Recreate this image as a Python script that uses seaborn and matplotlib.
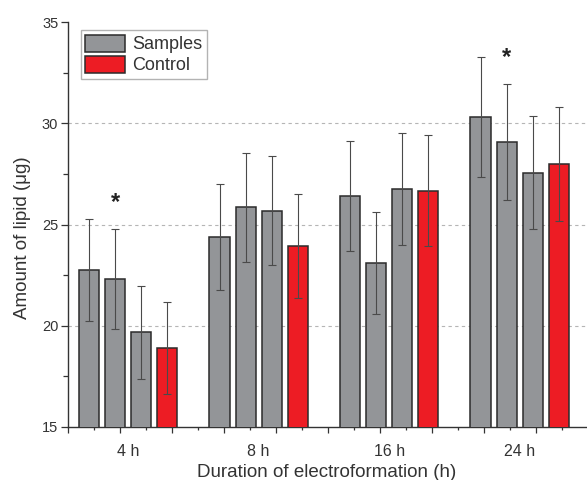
import matplotlib
matplotlib.use("Agg")
import matplotlib.pyplot as plt
import seaborn as sns
import pandas as pd
import numpy as np
from matplotlib.patches import Patch
from matplotlib.ticker import FixedLocator

# ---- data ----
durations = ["4 h", "8 h", "16 h", "24 h"]
series = ["Sample 1", "Sample 2", "Sample 3", "Control"]
sample1 = [22.75, 24.37, 26.39, 30.31]
sample2 = [22.31, 25.86, 23.08, 29.07]
sample3 = [19.68, 25.68, 26.75, 27.56]
control = [18.92, 23.94, 26.67, 27.97]
err1 = [2.50, 2.61, 2.72, 2.96]
err2 = [2.46, 2.69, 2.52, 2.88]
err3 = [2.30, 2.70, 2.76, 2.79]
errc = [2.27, 2.58, 2.73, 2.82]
star_marks = [("4 h", "Sample 2"), ("24 h", "Sample 2")]
legend_labels = ["Samples", "Control"]

values = [sample1, sample2, sample3, control]
errors = [err1, err2, err3, errc]

rows = []
for s, vals in zip(series, values):
    for d, v in zip(durations, vals):
        rows.append({"Duration": d, "Series": s, "Lipid": v})
df = pd.DataFrame(rows)

gray = "#939598"
red = "#ed1c24"
edge = "#2b2b2b"
palette = {"Sample 1": gray, "Sample 2": gray, "Sample 3": gray, "Control": red}

sns.set_style("white")
plt.rcParams["font.family"] = ["Liberation Sans", "DejaVu Sans"]

fig = plt.figure(figsize=(5.87, 4.80), dpi=100)
ax = fig.add_axes([68 / 587, 1 - 427 / 480, 1 - 68 / 587, (427 - 22) / 480])

sns.barplot(data=df, x="Duration", y="Lipid", hue="Series", order=durations,
            hue_order=series, palette=palette, width=0.8, gap=0.23,
            edgecolor=edge, linewidth=1.1, errorbar=None, legend=False,
            saturation=1, ax=ax, zorder=3)

# error bars from bar positions
centers = {}
for cont, s, errs in zip(ax.containers, series, errors):
    xs = [p.get_x() + p.get_width() / 2 for p in cont.patches]
    ys = [p.get_height() for p in cont.patches]
    for d, x in zip(durations, xs):
        centers[(d, s)] = x
    ax.errorbar(xs, ys, yerr=errs, fmt="none", ecolor="#4a4a4a",
                elinewidth=0.8, capsize=3.2, capthick=0.8, zorder=4)

vals_map = {(d, s): v for s, vals in zip(series, values) for d, v in zip(durations, vals)}
errs_map = {(d, s): e for s, es in zip(series, errors) for d, e in zip(durations, es)}
for d, s in star_marks:
    ax.text(centers[(d, s)], vals_map[(d, s)] + errs_map[(d, s)] + 1.3, "*",
            ha="center", va="center", fontsize=17, fontweight="bold", color="#222222")

ax.set_ylim(15, 35)
ax.set_xlim(-0.461, 3.516)

# grid
for yv in [20, 25, 30]:
    ax.axhline(yv, color="#b5b5b5", lw=0.8, ls=(0, (3, 3)), zorder=1)

# spines
for sp in ["top", "right"]:
    ax.spines[sp].set_visible(False)
for sp in ["left", "bottom"]:
    ax.spines[sp].set_color("#333333")
    ax.spines[sp].set_linewidth(1.0)

# y ticks
ax.set_yticks([15, 20, 25, 30, 35])
ax.set_yticklabels(["15", "20", "25", "30", "35"])
ax.yaxis.set_minor_locator(FixedLocator([17.5, 22.5, 27.5, 32.5]))
ax.tick_params(axis="y", which="major", direction="out", length=5, width=0.9,
               color="#333333", labelsize=10.5, labelcolor="#333333", pad=2, left=True)
ax.tick_params(axis="y", which="minor", direction="out", length=3.5, width=0.9,
               color="#333333", left=True)

# x ticks: long/short alternating, labels at group centres
step = 0.19923
long_ticks = [-0.461 + 2 * step * m for m in range(10)]
short_ticks = [-0.461 + step * (2 * m + 1) for m in range(10)]
ax.xaxis.set_major_locator(FixedLocator(long_ticks))
ax.xaxis.set_minor_locator(FixedLocator(short_ticks))
ax.set_xticklabels([""] * len(long_ticks))
ax.tick_params(axis="x", which="major", direction="out", length=4.5, width=0.9,
               color="#333333", bottom=True)
ax.tick_params(axis="x", which="minor", direction="out", length=2.5, width=0.9,
               color="#333333", bottom=True)
for i, d in enumerate(durations):
    ax.text(i, -0.042, d, transform=ax.get_xaxis_transform(), ha="center", va="top",
            fontsize=11.5, color="#333333")

ax.set_xlabel("Duration of electroformation (h)", fontsize=13.5, color="#333333")
ax.xaxis.label.set_va("baseline")
ax.xaxis.set_label_coords(0.499, -0.124)
ax.set_ylabel("Amount of lipid (μg)", fontsize=13.5, color="#333333")
ax.yaxis.label.set_va("center")
ax.yaxis.set_label_coords(-0.088, 0.467)

handles = [Patch(facecolor=gray, edgecolor=edge, linewidth=1.1),
           Patch(facecolor=red, edgecolor=edge, linewidth=1.1)]
leg = ax.legend(handles, legend_labels, loc="upper left", bbox_to_anchor=(0.025, 0.98),
                fontsize=13, frameon=True, fancybox=False, handlelength=2.2,
                handleheight=1.1, handletextpad=0.4, labelspacing=0.12,
                borderpad=0.25, borderaxespad=0)
leg.get_frame().set_edgecolor("#a0a0a0")
leg.get_frame().set_linewidth(1.0)
for t in leg.get_texts():
    t.set_color("#333333")

fig.savefig("out.png", dpi=100)
